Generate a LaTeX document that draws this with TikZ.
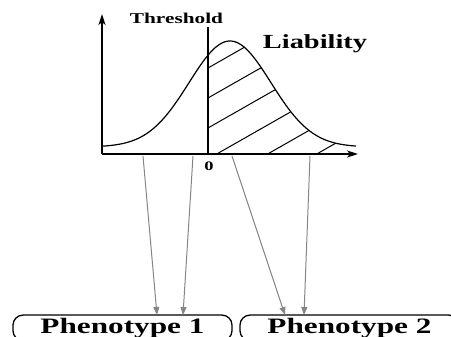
\documentclass[tikz,border=0pt]{standalone}
\usepackage{fontspec}
\usepackage{graphicx}
\setmainfont{Liberation Serif}
\usetikzlibrary{arrows.meta}
\newcommand{\sx}[1]{\scalebox{1.42}[1]{#1}}
\begin{document}
\begin{tikzpicture}[x=1pt,y=-1pt,
  axis/.style={line width=1.4pt, -{Stealth[length=11pt,width=7pt,inset=3pt]}},
  curve/.style={line width=1.2pt},
  hatch/.style={line width=1pt},
  grayarr/.style={draw=black!48, line width=1pt, -{Triangle[length=8pt,width=6pt]}, fill=none},
  lbl/.style={inner sep=0pt, anchor=base, font=\bfseries},
  phbox/.style={draw, line width=1.3pt, rounded corners=10pt, minimum width=219pt,
    minimum height=25.6pt, inner sep=0pt, font=\bfseries\fontsize{22}{26}\selectfont}]
\useasboundingbox (0,0) rectangle (451,337);
% axes
\coordinate (O) at (102,154);
\coordinate (ytop) at (102,14);
\coordinate (xend) at (358,154);
\draw[axis] (O) -- (ytop);
\draw[axis] (O) -- (xend);
% threshold line
\coordinate (tTop) at (208,27);
\coordinate (tBot) at (208,154);
\draw[line width=1.3pt] (tTop) -- (tBot);
% hatching
\begin{scope}
  \clip (208,154) -- plot[domain=208:362, samples=80] (\x, {147-106*exp(-(((\x-230)/41)^2)/2)}) -- (362,154) -- cycle;
  \foreach \c in {68,98,128,159,188,216}{
    \draw[hatch] (208,\c) -- ++(170,-96.9);
  }
\end{scope}
% curve
\draw[curve] plot[domain=102:356, samples=120] (\x, {147-106*exp(-(((\x-230)/41)^2)/2)});
% labels
\node[lbl, font=\bfseries\fontsize{15}{18}\selectfont] (thr) at (176.5,24) {\sx{Threshold}};
\node[lbl, font=\bfseries\fontsize{20}{24}\selectfont] (liab) at (315,49) {\sx{Liability}};
\node[lbl, font=\bfseries\fontsize{13}{16}\selectfont] (zero) at (209,171) {\sx{0}};
% phenotype boxes
\node[phbox] (ph1) at (122.5,327.9) {\sx{Phenotype 1}};
\node[phbox] (ph2) at (349.5,327.9) {\sx{Phenotype 2}};
% arrows
\coordinate (s1) at (143,156);
\coordinate (s2) at (193,156);
\coordinate (s3) at (232,156);
\coordinate (s4) at (310,156);
\coordinate (e1) at (157,315);
\coordinate (e2) at (183,315);
\coordinate (e3) at (285,315);
\coordinate (e4) at (304,315);
\draw[grayarr] (s1) -- (e1);
\draw[grayarr] (s2) -- (e2);
\draw[grayarr] (s3) -- (e3);
\draw[grayarr] (s4) -- (e4);
\end{tikzpicture}
\end{document}
